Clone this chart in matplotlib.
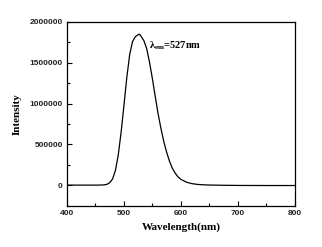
import matplotlib
matplotlib.use("Agg")
import matplotlib.pyplot as plt
from matplotlib.ticker import MultipleLocator

# emission spectrum
wavelength = [400, 450, 460, 465, 470, 475, 480, 485, 490, 495, 500, 505, 510,
              515, 520, 525, 527, 530, 535, 540, 545, 550, 555, 560, 565, 570,
              575, 580, 585, 590, 595, 600, 610, 620, 630, 640, 650, 675, 700,
              750, 800]
intensity = [0, 0, 1000, 3000, 9000, 30000, 75000, 180000, 370000, 650000,
             980000, 1320000, 1600000, 1760000, 1820000, 1845000, 1850000,
             1825000, 1770000, 1670000, 1500000, 1300000, 1080000, 870000,
             690000, 530000, 400000, 290000, 205000, 145000, 100000, 70000,
             35000, 17000, 8000, 3500, 1000, -2000, -4000, -5000, -5000]
peak_label = r'$\lambda_{\mathrm{em}}$=527nm'

plt.rcParams['mathtext.fontset'] = 'custom'
plt.rcParams['mathtext.rm'] = 'Liberation Serif:bold'
plt.rcParams['mathtext.it'] = 'Liberation Serif:bold'
plt.rcParams['font.family'] = 'Liberation Sans'
plt.rcParams['font.weight'] = 'bold'

fig = plt.figure(figsize=(3.22, 2.47), dpi=100)
ax = fig.add_axes([0.208, 0.168, 0.708, 0.743])
ax.plot(wavelength, intensity, color='black', lw=0.9)

ax.set_xlim(400, 800)
ax.set_ylim(-250000, 2000000)
ax.xaxis.set_major_locator(MultipleLocator(100))
ax.xaxis.set_minor_locator(MultipleLocator(50))
ax.yaxis.set_major_locator(MultipleLocator(500000))
ax.yaxis.set_minor_locator(MultipleLocator(250000))
ax.ticklabel_format(axis='y', style='plain', useOffset=False)
ax.tick_params(which='both', direction='in', width=0.8, labelsize=6,
               labelcolor='#222222')
ax.tick_params(which='major', length=3.5, pad=3)
ax.tick_params(which='minor', length=2)
for s in ax.spines.values():
    s.set_linewidth(0.9)

ax.set_xlabel('Wavelength(nm)', family='Liberation Serif', weight='bold',
              fontsize=8, labelpad=4)
ax.set_ylabel('Intensity', family='Liberation Serif', weight='bold',
              fontsize=8, labelpad=6)
ax.text(544, 1710000, peak_label, family='Liberation Serif', weight='bold',
        fontsize=7.5, va='center')

fig.savefig('out.png', dpi=100)
